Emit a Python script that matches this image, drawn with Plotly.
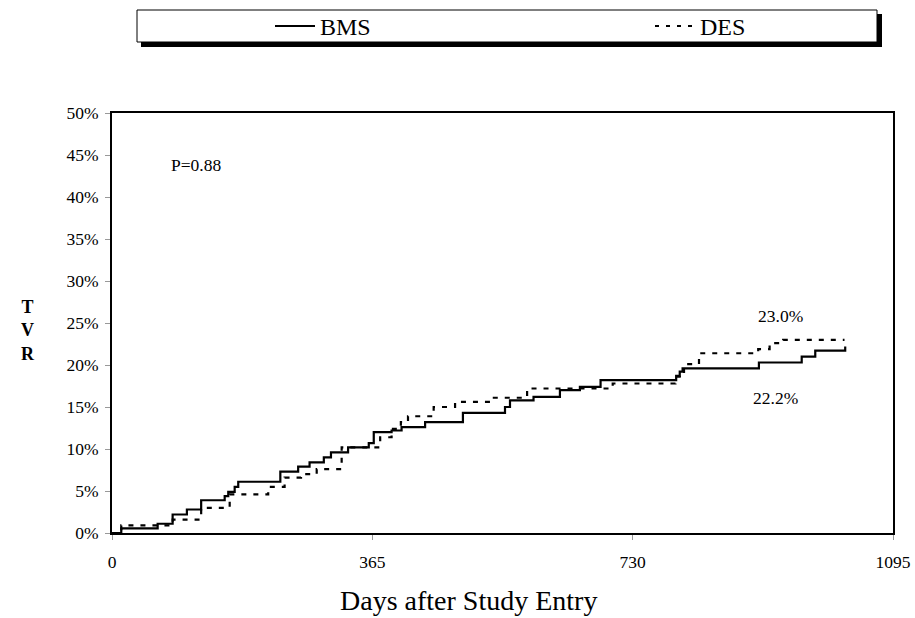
import plotly.graph_objects as go

# ---- data (days, cumulative TVR %) ----
bms_days = [0, 13, 64, 85, 105, 125, 158, 163, 172, 177, 236, 261, 277, 297, 307, 331, 360, 367,
            392, 406, 439, 492, 551, 558, 591, 628, 656, 685, 791, 796, 800, 907, 967, 986, 1028]
bms_tvr = [0, 0.55, 1.1, 2.2, 2.8, 3.9, 4.4, 4.9, 5.5, 6.1, 7.3, 7.9, 8.4, 9.0, 9.6, 10.2, 10.7, 12.0,
           12.2, 12.6, 13.2, 14.3, 15.0, 15.8, 16.2, 17.0, 17.4, 18.2, 18.7, 19.2, 19.6, 20.3, 21.0, 21.7, 22.2]

des_days = [0, 13, 85, 125, 165, 219, 242, 265, 287, 322, 376, 392, 405, 415, 451, 481, 531, 582,
            702, 790, 802, 823, 906, 922, 941, 1027]
des_tvr = [0, 0.9, 1.6, 3.0, 4.6, 5.5, 6.6, 7.0, 7.6, 10.2, 11.4, 12.4, 13.2, 13.9, 15.0, 15.6, 16.1, 17.2,
           17.8, 18.6, 20.1, 21.4, 21.9, 22.6, 23.0, 23.0]

x_ticks = [0, 365, 730, 1095]
y_ticks = [0, 5, 10, 15, 20, 25, 30, 35, 40, 45, 50]
y_tick_text = [f"{v}%" for v in y_ticks]

FONT = "Liberation Serif"
W, H = 915, 618
L, R, T, B = 112, 22, 113, 85

def px(xp):
    return (xp - L) / (W - L - R)

def py(yp):
    return (H - B - yp) / (H - T - B)

DES_DASH = "5px,7px"

fig = go.Figure()
fig.add_trace(go.Scatter(x=bms_days, y=bms_tvr, mode="lines", name="BMS", line_shape="hv",
                         line=dict(color="black", width=2.2), showlegend=False))
fig.add_trace(go.Scatter(x=des_days, y=des_tvr, mode="lines", name="DES", line_shape="hv",
                         line=dict(color="black", width=2.2, dash=DES_DASH), showlegend=False))

# legend frame with shadow
fig.add_shape(type="rect", xref="paper", yref="paper", x0=px(141), x1=px(882), y0=py(47), y1=py(14),
              fillcolor="black", line=dict(width=0))
fig.add_shape(type="rect", xref="paper", yref="paper", x0=px(137), x1=px(877), y0=py(42), y1=py(10),
              fillcolor="white", line=dict(color="black", width=1))
# legend samples
fig.add_shape(type="line", xref="paper", yref="paper", x0=px(275), x1=px(315), y0=py(26), y1=py(26),
              line=dict(color="black", width=2.2))
fig.add_shape(type="line", xref="paper", yref="paper", x0=px(655), x1=px(697), y0=py(26), y1=py(26),
              line=dict(color="black", width=2.2, dash="4px,7px"))
fig.add_annotation(xref="paper", yref="paper", x=px(318), y=py(27), xanchor="left", yanchor="middle",
                   text="BMS", showarrow=False, font=dict(family=FONT, size=24, color="black"))
fig.add_annotation(xref="paper", yref="paper", x=px(698), y=py(27), xanchor="left", yanchor="middle",
                   text="DES", showarrow=False, font=dict(family=FONT, size=24, color="black"))

ANN = dict(family=FONT, size=17.5, color="black")
fig.add_annotation(x=118.4, y=43.8, text="P=0.88", showarrow=False, font=ANN)
fig.add_annotation(x=936.8, y=25.85, text="23.0%", showarrow=False, font=ANN)
fig.add_annotation(x=929.8, y=16.1, text="22.2%", showarrow=False, font=ANN)
fig.add_annotation(xref="paper", yref="paper", x=px(19), y=py(330), yanchor="middle",
                   text="<b>T</b><br><b>V</b><br><b>R</b>",
                   showarrow=False, font=dict(family=FONT, size=18, color="black"))
fig.add_annotation(xref="paper", yref="paper", x=px(468), y=py(600), xanchor="center", yanchor="middle",
                   text="Days after Study Entry", showarrow=False, font=dict(family=FONT, size=28, color="black"))

fig.update_layout(
    width=W, height=H,
    margin=dict(l=L, r=R, t=T, b=B),
    paper_bgcolor="white", plot_bgcolor="white",
    font=dict(family=FONT, color="black", size=17.5),
    showlegend=False,
    xaxis=dict(range=[0, 1095], tickvals=x_ticks, ticks="outside", ticklen=5, tickcolor="#999",
               showline=True, linecolor="black", linewidth=2, mirror=True, showgrid=False, zeroline=False,
               tickfont=dict(family=FONT, size=17.5), automargin=False, ticklabelstandoff=7),
    yaxis=dict(range=[0, 50], tickvals=y_ticks, ticktext=y_tick_text, ticks="outside", ticklen=5,
               tickcolor="#999", showline=True, linecolor="black", linewidth=2, mirror=True,
               showgrid=False, zeroline=False, tickfont=dict(family=FONT, size=17.5), automargin=False,
               ticklabelstandoff=3),
)

fig.write_html("out.html", config={"displayModeBar": False},
               post_script="document.body.style.margin='0';document.body.style.padding='0';")
